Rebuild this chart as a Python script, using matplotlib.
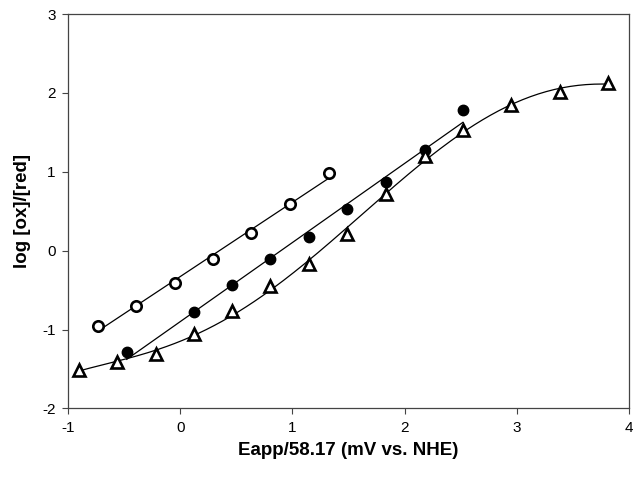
import numpy as np
import matplotlib

matplotlib.use("Agg")
import matplotlib.pyplot as plt

# open circles
open_x = [-0.735, -0.391, -0.051, 0.291, 0.631, 0.978, 1.322]
open_y = [-0.958, -0.695, -0.407, -0.109, 0.225, 0.598, 0.980]

# filled circles
fill_x = [-0.477, 0.118, 0.462, 0.803, 1.147, 1.490, 1.834, 2.178, 2.518]
fill_y = [-1.289, -0.780, -0.436, -0.109, 0.170, 0.527, 0.870, 1.277, 1.786]

# open triangles
tri_x = [-0.904, -0.563, -0.219, 0.122, 0.462, 0.803, 1.147, 1.490,
         1.837, 2.178, 2.518, 2.948, 3.381, 3.807]
tri_y = [-1.509, -1.416, -1.305, -1.060, -0.763, -0.449, -0.169, 0.212,
         0.721, 1.205, 1.527, 1.850, 2.015, 2.130]

x_ticks = [-1, 0, 1, 2, 3, 4]
y_ticks = [-2, -1, 0, 1, 2, 3]

plt.rcParams["font.family"] = ["Liberation Sans", "DejaVu Sans"]
plt.rcParams["axes.unicode_minus"] = False

fig = plt.figure(figsize=(6.42, 4.84), dpi=100)
ax = fig.add_axes([0.106, 0.156, 0.874, 0.815])


def fit_line(xs, ys, deg):
    xs = np.asarray(xs)
    coef = np.polyfit(xs, ys, deg)
    xx = np.linspace(xs.min(), xs.max(), 200)
    return xx, np.polyval(coef, xx)


for xs, ys, deg in [(open_x, open_y, 1), (fill_x, fill_y, 1), (tri_x, tri_y, 5)]:
    xx, yy = fit_line(xs, ys, deg)
    ax.plot(xx, yy, color="black", linewidth=0.9, zorder=2)

ax.plot(open_x, open_y, "o", ms=7.5, mfc="white", mec="black", mew=1.9, zorder=3)
ax.plot(fill_x, fill_y, "o", ms=7.5, mfc="black", mec="black", zorder=3)
ax.plot(tri_x, tri_y, "^", ms=8, mfc="white", mec="black", mew=1.9, zorder=3)

ax.set_xlim(-1, 4)
ax.set_ylim(-2, 3)
ax.set_xticks(x_ticks)
ax.set_yticks(y_ticks)
ax.tick_params(direction="out", length=4, width=0.8, color="#444444",
               labelsize=11, pad=5)
for s in ax.spines.values():
    s.set_color("#444444")
    s.set_linewidth(0.9)

ax.set_xlabel("Eapp/58.17 (mV vs. NHE)", fontsize=13.5, fontweight="bold", labelpad=5)
ax.set_ylabel("log [ox]/[red]", fontsize=13.5, fontweight="bold", labelpad=8)

fig.savefig("out.png", dpi=100)
